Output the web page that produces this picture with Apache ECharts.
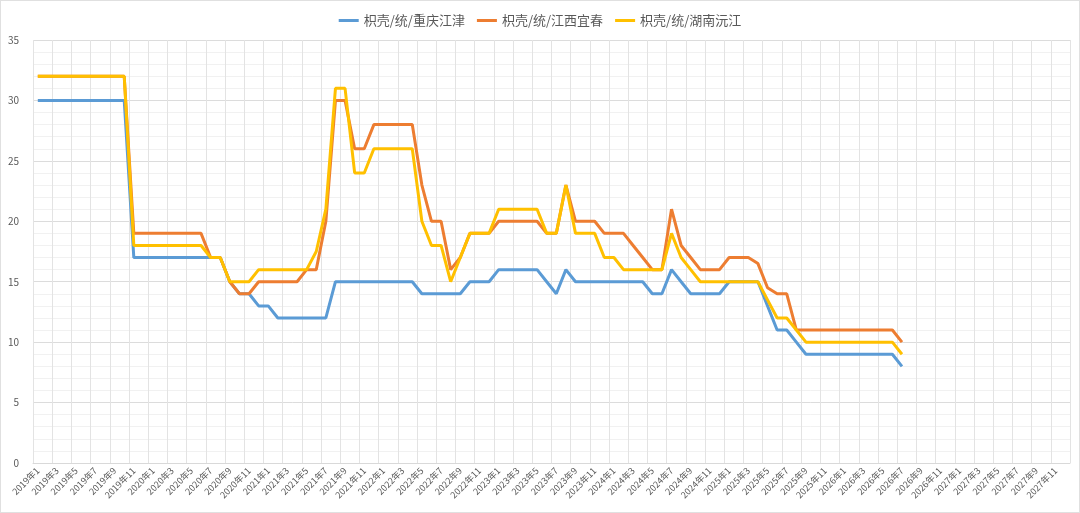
<!DOCTYPE html>
<html>
<head>
<meta charset="utf-8">
<script src="https://cdn.jsdelivr.net/npm/echarts@6/dist/echarts.min.js"></script>
<style>
  html, body { margin: 0; padding: 0; background: #fff; }
  #chart { width: 1078px; height: 511px; border: 1px solid #e0e0e0; }
</style>
</head>
<body>
<div id="chart"></div>
<script>
// 月份类目 2019年1 ~ 2027年12
const months = []
for (let y = 2019; y <= 2027; y++) {
    for (let m = 1; m <= 12; m++) {
        months.push(y + '年' + m)
    }
}

const seriesNames = ['枳壳/统/重庆江津', '枳壳/统/江西宜春', '枳壳/统/湖南沅江']

// 重庆江津
const cqjj = [
    30, 30, 30, 30, 30, 30, 30, 30, 30, 30,
    17, 17, 17, 17, 17, 17, 17, 17, 17, 17,
    15, 14, 14, 13, 13, 12, 12, 12, 12, 12, 12,
    15, 15, 15, 15, 15, 15, 15, 15, 15,
    14, 14, 14, 14, 14, 15, 15, 15,
    16, 16, 16, 16, 16, 15, 14, 16,
    15, 15, 15, 15, 15, 15, 15, 15,
    14, 14, 16, 15, 14, 14, 14, 14,
    15, 15, 15, 15, 13, 11, 11, 10,
    9, 9, 9, 9, 9, 9, 9, 9, 9, 9, 8
]
// 江西宜春
const jxyc = [
    32, 32, 32, 32, 32, 32, 32, 32, 32, 32,
    19, 19, 19, 19, 19, 19, 19, 19, 17, 17,
    15, 14, 14, 15, 15, 15, 15, 15, 16, 16, 20,
    30, 30, 26, 26, 28, 28, 28, 28, 28,
    23, 20, 20, 16, 17, 19, 19, 19,
    20, 20, 20, 20, 20, 19, 19, 23,
    20, 20, 20, 19, 19, 19, 18, 17,
    16, 16, 21, 18, 17, 16, 16, 16,
    17, 17, 17, 16.5, 14.5, 14, 14, 11,
    11, 11, 11, 11, 11, 11, 11, 11, 11, 11, 10
]
// 湖南沅江
const hnyj = [
    32, 32, 32, 32, 32, 32, 32, 32, 32, 32,
    18, 18, 18, 18, 18, 18, 18, 18, 17, 17,
    15, 15, 15, 16, 16, 16, 16, 16, 16, 17.5, 21,
    31, 31, 24, 24, 26, 26, 26, 26, 26,
    20, 18, 18, 15, 17, 19, 19, 19,
    21, 21, 21, 21, 21, 19, 19, 23,
    19, 19, 19, 17, 17, 16, 16, 16,
    16, 16, 19, 17, 16, 15, 15, 15,
    15, 15, 15, 15, 13.5, 12, 12, 11,
    10, 10, 10, 10, 10, 10, 10, 10, 10, 10, 9
]

const colors = ['#5B9BD5', '#ED7D31', '#FFC000']
const allData = [cqjj, jxyc, hnyj]

let myChart = echarts.init(document.getElementById('chart'))
let option = {
    animation: false,
    color: colors,
    textStyle: { fontFamily: '"Noto Sans CJK SC", sans-serif' },
    legend: {
        top: 8,
        left: 'center',
        icon: 'rect',
        itemWidth: 20,
        itemHeight: 3,
        itemGap: 12,
        textStyle: { fontSize: 13, color: '#595959' },
        data: seriesNames
    },
    grid: {
        left: 32,
        right: 9,
        top: 39,
        bottom: 49,
        containLabel: false
    },
    xAxis: {
        type: 'category',
        data: months,
        boundaryGap: true,
        axisLine: { lineStyle: { color: '#d9d9d9' } },
        axisTick: { show: false },
        axisLabel: {
            interval: 1,
            rotate: 45,
            fontSize: 9,
            color: '#595959',
            margin: 6
        },
        splitLine: {
            show: true,
            interval: 1,
            lineStyle: { color: '#e3e3e3' }
        }
    },
    yAxis: {
        type: 'value',
        min: 0,
        max: 35,
        interval: 5,
        axisLine: { show: false },
        axisTick: { show: false },
        axisLabel: { fontSize: 10, color: '#595959', margin: 14 },
        splitLine: { lineStyle: { color: '#dcdcdc' } },
        minorTick: { show: false, splitNumber: 5 },
        minorSplitLine: { show: true, lineStyle: { color: '#f1f1f1' } }
    },
    series: seriesNames.map((name, k) => ({
        name: name,
        type: 'line',
        data: allData[k],
        symbol: 'none',
        lineStyle: { width: 3, color: colors[k] }
    }))
}
myChart.setOption(option)
</script>
</body>
</html>
